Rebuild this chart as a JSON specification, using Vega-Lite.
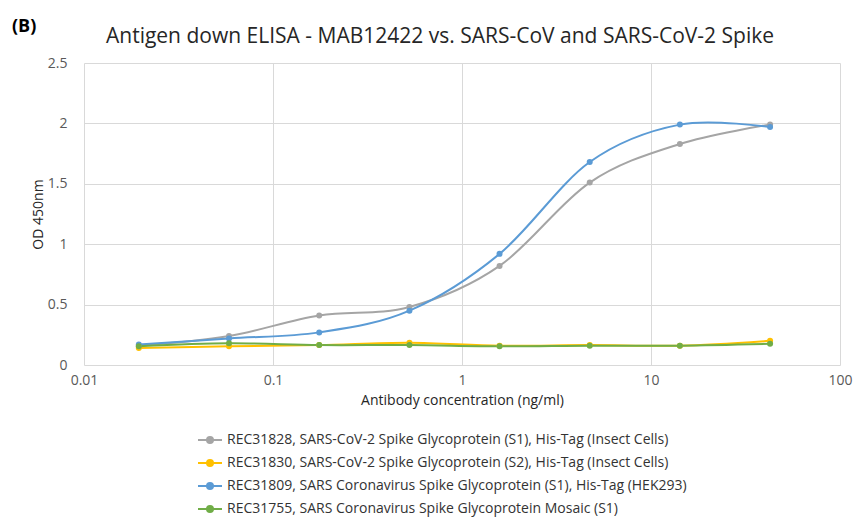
{
  "$schema": "https://vega.github.io/schema/vega-lite/v6.json",
  "width": 756,
  "height": 302,
  "autosize": {"type": "none"},
  "padding": {"left": 84, "top": 63, "right": 16, "bottom": 156},
  "background": "white",
  "config": {
    "font": "Open Sans",
    "view": {"stroke": null},
    "axis": {
      "gridColor": "#D9D9D9",
      "domain": false,
      "ticks": false,
      "labelColor": "#595959",
      "labelFontSize": 14,
      "titleFontSize": 14,
      "titleFontWeight": "normal",
      "titleColor": "#262626"
    },
    "legend": {"labelFontSize": 14, "labelColor": "#333333", "labelLimit": 0}
  },
  "title": {
    "text": "Antigen down ELISA - MAB12422 vs. SARS-CoV and SARS-CoV-2 Spike",
    "fontSize": 21,
    "fontWeight": "normal",
    "color": "#262626",
    "offset": -29,
    "dx": -22
  },
  "data": {
    "values": [
      {"conc": 0.0195, "od": 0.16, "series": "REC31828, SARS-CoV-2 Spike Glycoprotein (S1), His-Tag (Insect Cells)"},
      {"conc": 0.0585, "od": 0.24, "series": "REC31828, SARS-CoV-2 Spike Glycoprotein (S1), His-Tag (Insect Cells)"},
      {"conc": 0.1756, "od": 0.41, "series": "REC31828, SARS-CoV-2 Spike Glycoprotein (S1), His-Tag (Insect Cells)"},
      {"conc": 0.527, "od": 0.48, "series": "REC31828, SARS-CoV-2 Spike Glycoprotein (S1), His-Tag (Insect Cells)"},
      {"conc": 1.58, "od": 0.82, "series": "REC31828, SARS-CoV-2 Spike Glycoprotein (S1), His-Tag (Insect Cells)"},
      {"conc": 4.74, "od": 1.51, "series": "REC31828, SARS-CoV-2 Spike Glycoprotein (S1), His-Tag (Insect Cells)"},
      {"conc": 14.22, "od": 1.83, "series": "REC31828, SARS-CoV-2 Spike Glycoprotein (S1), His-Tag (Insect Cells)"},
      {"conc": 42.67, "od": 1.99, "series": "REC31828, SARS-CoV-2 Spike Glycoprotein (S1), His-Tag (Insect Cells)"},
      {"conc": 0.0195, "od": 0.14, "series": "REC31830, SARS-CoV-2 Spike Glycoprotein (S2), His-Tag (Insect Cells)"},
      {"conc": 0.0585, "od": 0.155, "series": "REC31830, SARS-CoV-2 Spike Glycoprotein (S2), His-Tag (Insect Cells)"},
      {"conc": 0.1756, "od": 0.165, "series": "REC31830, SARS-CoV-2 Spike Glycoprotein (S2), His-Tag (Insect Cells)"},
      {"conc": 0.527, "od": 0.185, "series": "REC31830, SARS-CoV-2 Spike Glycoprotein (S2), His-Tag (Insect Cells)"},
      {"conc": 1.58, "od": 0.16, "series": "REC31830, SARS-CoV-2 Spike Glycoprotein (S2), His-Tag (Insect Cells)"},
      {"conc": 4.74, "od": 0.165, "series": "REC31830, SARS-CoV-2 Spike Glycoprotein (S2), His-Tag (Insect Cells)"},
      {"conc": 14.22, "od": 0.16, "series": "REC31830, SARS-CoV-2 Spike Glycoprotein (S2), His-Tag (Insect Cells)"},
      {"conc": 42.67, "od": 0.2, "series": "REC31830, SARS-CoV-2 Spike Glycoprotein (S2), His-Tag (Insect Cells)"},
      {"conc": 0.0195, "od": 0.17, "series": "REC31809, SARS Coronavirus Spike Glycoprotein (S1), His-Tag (HEK293)"},
      {"conc": 0.0585, "od": 0.22, "series": "REC31809, SARS Coronavirus Spike Glycoprotein (S1), His-Tag (HEK293)"},
      {"conc": 0.1756, "od": 0.27, "series": "REC31809, SARS Coronavirus Spike Glycoprotein (S1), His-Tag (HEK293)"},
      {"conc": 0.527, "od": 0.45, "series": "REC31809, SARS Coronavirus Spike Glycoprotein (S1), His-Tag (HEK293)"},
      {"conc": 1.58, "od": 0.92, "series": "REC31809, SARS Coronavirus Spike Glycoprotein (S1), His-Tag (HEK293)"},
      {"conc": 4.74, "od": 1.68, "series": "REC31809, SARS Coronavirus Spike Glycoprotein (S1), His-Tag (HEK293)"},
      {"conc": 14.22, "od": 1.99, "series": "REC31809, SARS Coronavirus Spike Glycoprotein (S1), His-Tag (HEK293)"},
      {"conc": 42.67, "od": 1.97, "series": "REC31809, SARS Coronavirus Spike Glycoprotein (S1), His-Tag (HEK293)"},
      {"conc": 0.0195, "od": 0.155, "series": "REC31755, SARS Coronavirus Spike Glycoprotein Mosaic (S1)"},
      {"conc": 0.0585, "od": 0.18, "series": "REC31755, SARS Coronavirus Spike Glycoprotein Mosaic (S1)"},
      {"conc": 0.1756, "od": 0.165, "series": "REC31755, SARS Coronavirus Spike Glycoprotein Mosaic (S1)"},
      {"conc": 0.527, "od": 0.165, "series": "REC31755, SARS Coronavirus Spike Glycoprotein Mosaic (S1)"},
      {"conc": 1.58, "od": 0.155, "series": "REC31755, SARS Coronavirus Spike Glycoprotein Mosaic (S1)"},
      {"conc": 4.74, "od": 0.16, "series": "REC31755, SARS Coronavirus Spike Glycoprotein Mosaic (S1)"},
      {"conc": 14.22, "od": 0.16, "series": "REC31755, SARS Coronavirus Spike Glycoprotein Mosaic (S1)"},
      {"conc": 42.67, "od": 0.175, "series": "REC31755, SARS Coronavirus Spike Glycoprotein Mosaic (S1)"}
    ]
  },
  "encoding": {
    "x": {
      "field": "conc",
      "type": "quantitative",
      "scale": {"type": "log", "domain": [0.01, 100]},
      "axis": {
        "values": [0.01, 0.1, 1, 10, 100],
        "format": "~g",
        "labelFlush": false,
        "labelPadding": 8,
        "title": "Antibody concentration (ng/ml)",
        "titlePadding": 6
      }
    },
    "y": {
      "field": "od",
      "type": "quantitative",
      "scale": {"domain": [0, 2.5]},
      "axis": {
        "values": [0, 0.5, 1, 1.5, 2, 2.5],
        "format": "~g",
        "labelPadding": 17,
        "title": "OD 450nm",
        "titlePadding": 2
      }
    },
    "color": {
      "field": "series",
      "type": "nominal",
      "sort": null,
      "scale": {
        "domain": [
          "REC31828, SARS-CoV-2 Spike Glycoprotein (S1), His-Tag (Insect Cells)",
          "REC31830, SARS-CoV-2 Spike Glycoprotein (S2), His-Tag (Insect Cells)",
          "REC31809, SARS Coronavirus Spike Glycoprotein (S1), His-Tag (HEK293)",
          "REC31755, SARS Coronavirus Spike Glycoprotein Mosaic (S1)"
        ],
        "range": ["#A5A5A5", "#FFC000", "#5B9BD5", "#70AD47"]
      },
      "legend": {
        "title": null,
        "orient": "none",
        "legendX": 113,
        "legendY": 364,
        "direction": "vertical",
        "symbolType": "M-1,0H1M0.25,0A0.25,0.25,0,1,1,-0.25,0A0.25,0.25,0,1,1,0.25,0Z",
        "symbolSize": 576,
        "symbolStrokeWidth": 2,
        "labelOffset": 4,
        "rowPadding": 3
      }
    }
  },
  "layer": [
    {
      "mark": {"type": "line", "interpolate": "cardinal", "strokeWidth": 2},
      "encoding": {"detail": {"field": "series"}}
    },
    {
      "mark": {"type": "point", "filled": true, "opacity": 1, "size": 36}
    },
    {
      "data": {"values": [{"label": "(B)"}]},
      "mark": {"type": "text", "align": "left", "baseline": "middle", "fontSize": 18, "fontWeight": "bold", "x": -72, "y": -36, "color": "#000000"},
      "encoding": {"x": null, "y": null, "color": null, "text": {"field": "label"}}
    }
  ]
}
